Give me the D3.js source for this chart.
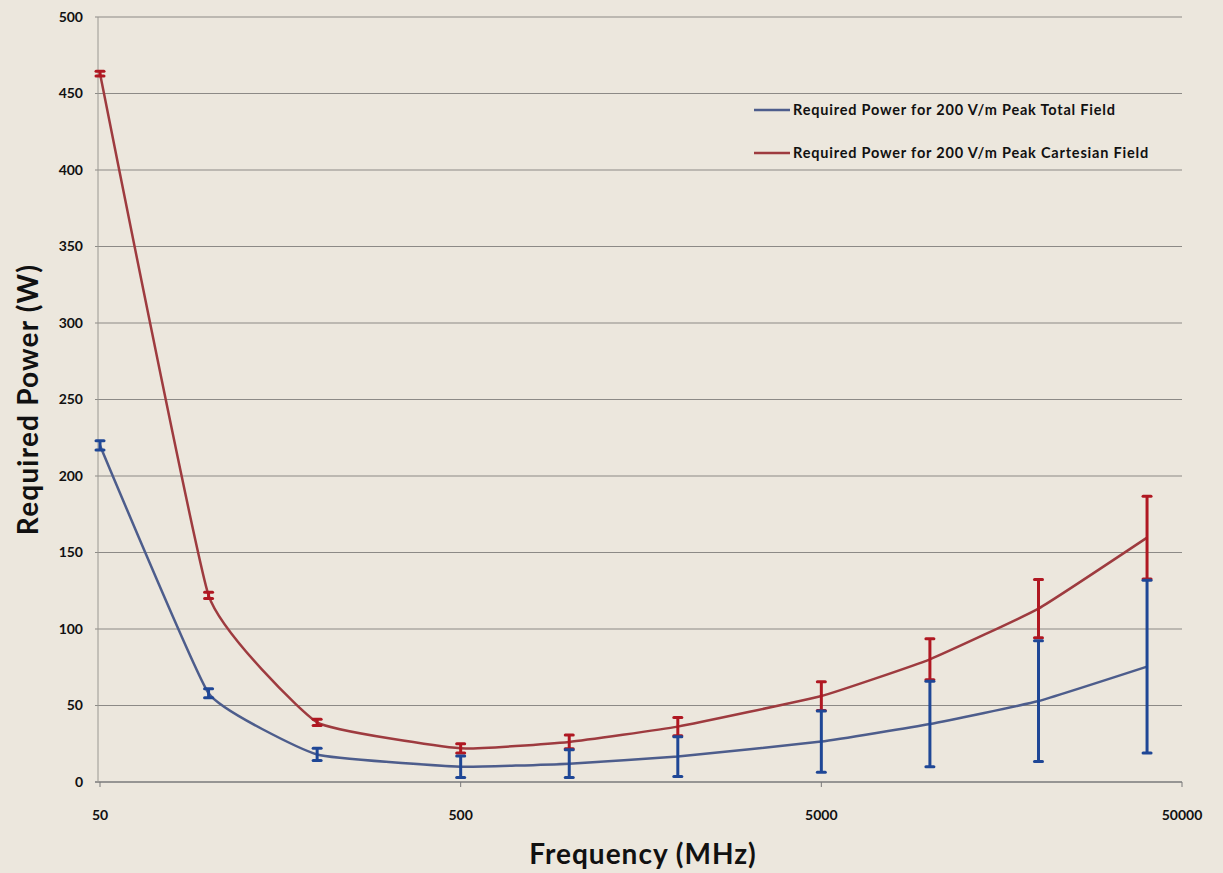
<!DOCTYPE html>
<html>
<head>
<meta charset="utf-8">
<script src="https://cdn.jsdelivr.net/npm/d3@7"></script>
<style>
  body { margin: 0; background: #ece7dd; }
  svg { display: block; }
  text { font-family: Lato, "Open Sans", sans-serif; font-weight: bold; fill: #111; }
</style>
</head>
<body>
<div class="chart"></div>
<script>
// frequencies (MHz)
const freqs = [50, 100, 200, 500, 1000, 2000, 5000, 10000, 20000, 40000];
// peak total field
const totalPower = [220, 58, 18, 10, 12, 16.6, 26.4, 37.9, 52.9, 75.4];
const totalErr   = [3, 3, 4, 7, 9, 13, 20, 28, 39.5, 56.5];
// peak cartesian field
const cartPower = [463, 122, 39, 22, 26.2, 36.2, 56.2, 80.2, 113.3, 159.7];
const cartErr   = [1.5, 2, 2, 3, 4.5, 6, 9.4, 13.4, 19, 27];

const yTicks = d3.range(0, 501, 50);
const xTicks = [50, 500, 5000, 50000];

const seriesNames = ['Required Power for 200 V/m Peak Total Field',
                     'Required Power for 200 V/m Peak Cartesian Field'];

const width = 1223, height = 873;
const margin = { top: 17, right: 41, bottom: 91, left: 100 };

const svg = d3.select('.chart').append('svg')
  .attr('width', width)
  .attr('height', height);

svg.append('rect').attr('width', width).attr('height', height).attr('fill', '#ece7dd');

const x = d3.scaleLog().domain([50, 50000]).range([margin.left, width - margin.right]);
const y = d3.scaleLinear().domain([0, 500]).range([height - margin.bottom, margin.top]);

// grid lines
svg.append('g')
  .selectAll('line')
  .data(yTicks)
  .join('line')
  .attr('x1', margin.left - 5)
  .attr('x2', width - margin.right)
  .attr('y1', d => y(d))
  .attr('y2', d => y(d))
  .attr('stroke', d => d === 0 ? '#7a7a7a' : '#8c8a86')
  .attr('stroke-width', d => d === 0 ? 1.6 : 1.2);

// y axis line
svg.append('line')
  .attr('x1', margin.left - 2).attr('x2', margin.left - 2)
  .attr('y1', y(500)).attr('y2', y(0))
  .attr('stroke', '#9a9892').attr('stroke-width', 1);

// y labels
svg.append('g')
  .selectAll('text')
  .data(yTicks)
  .join('text')
  .attr('x', margin.left - 17)
  .attr('y', d => y(d))
  .attr('dy', '0.35em')
  .attr('text-anchor', 'end')
  .attr('font-size', '14px')
  .text(d => d);

// x ticks + labels
svg.append('g')
  .selectAll('line')
  .data(xTicks)
  .join('line')
  .attr('x1', d => x(d)).attr('x2', d => x(d))
  .attr('y1', y(0)).attr('y2', y(0) + 5)
  .attr('stroke', '#7a7a7a');

svg.append('g')
  .selectAll('text')
  .data(xTicks)
  .join('text')
  .attr('x', d => x(d))
  .attr('y', y(0) + 38)
  .attr('text-anchor', 'middle')
  .attr('font-size', '14px')
  .text(d => d);

// axis titles
svg.append('text')
  .attr('x', 643).attr('y', 864)
  .attr('text-anchor', 'middle')
  .attr('font-size', '28px')
  .attr('letter-spacing', '1px')
  .text('Frequency (MHz)');

svg.append('text')
  .attr('transform', `translate(38, ${y(250)}) rotate(-90)`)
  .attr('text-anchor', 'middle')
  .attr('font-size', '28px')
  .attr('letter-spacing', '1.2px')
  .text('Required Power (W)');

const series = [
  { vals: totalPower, err: totalErr, line: '#4d5d8c', bar: '#1f4796' },
  { vals: cartPower, err: cartErr, line: '#9e3b3f', bar: '#b01822' }
];

const line = d3.line()
  .x(d => x(d[0]))
  .y(d => y(d[1]))
  .curve(d3.curveCardinal.tension(0.65));

function drawBars(s) {
  const g = svg.append('g');
  const pts = freqs.map((f, i) => ({ f, v: s.vals[i], e: s.err[i] }));
  g.selectAll('line.bar')
    .data(pts)
    .join('line')
    .attr('class', 'bar')
    .attr('x1', d => x(d.f)).attr('x2', d => x(d.f))
    .attr('y1', d => y(d.v + d.e)).attr('y2', d => y(Math.max(0, d.v - d.e)))
    .attr('stroke', s.bar).attr('stroke-width', 3);
  ['top', 'bot'].forEach(k => {
    g.selectAll('line.' + k)
      .data(pts)
      .join('line')
      .attr('class', k)
      .attr('x1', d => x(d.f) - 4).attr('x2', d => x(d.f) + 4)
      .attr('y1', d => y(k === 'top' ? d.v + d.e : d.v - d.e))
      .attr('y2', d => y(k === 'top' ? d.v + d.e : d.v - d.e))
      .attr('stroke', s.bar).attr('stroke-width', 3)
      .attr('stroke-linecap', 'round');
  });
}

series.forEach(s => {
  svg.append('path')
    .datum(freqs.map((f, i) => [f, s.vals[i]]))
    .attr('d', line)
    .attr('fill', 'none')
    .attr('stroke', s.line)
    .attr('stroke-width', 2.5);
});
drawBars(series[1]);
drawBars(series[0]);

// legend
const legend = svg.append('g');
seriesNames.forEach((name, i) => {
  const ly = 110 + i * 43;
  legend.append('line')
    .attr('x1', 754).attr('x2', 790)
    .attr('y1', ly).attr('y2', ly)
    .attr('stroke', series[i].line).attr('stroke-width', 2.5);
  legend.append('text')
    .attr('x', 793).attr('y', ly)
    .attr('dy', '0.35em')
    .attr('font-size', '14.5px')
    .attr('letter-spacing', '0.8px')
    .text(name);
});
</script>
</body>
</html>
